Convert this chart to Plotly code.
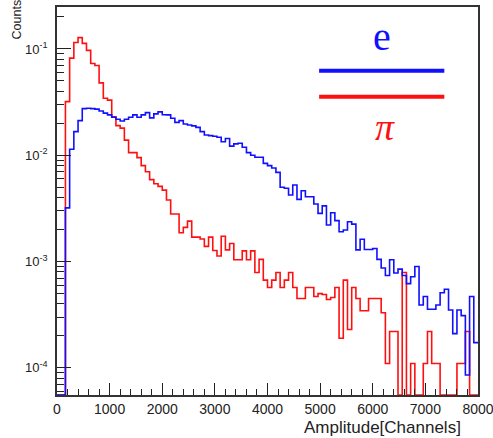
import numpy as np
import plotly.graph_objects as go

# ---------------- data ----------------
bin_width = 80
x_lo, x_hi = 0, 8000

# pion (red) normalised counts, 100 bins of 80 channels starting at 0
pi_counts = [
    0, 0, 0.032, 0.082, 0.115, 0.128, 0.113, 0.097, 0.073, 0.070,
    0.048, 0.0344, 0.033, 0.023, 0.019, 0.018, 0.0139, 0.0106, 0.0106, 0.0095,
    0.0080, 0.0070, 0.0059, 0.0054, 0.0051, 0.0047, 0.0038, 0.0028, 0.0028, 0.00187,
    0.0021, 0.0024, 0.0017, 0.0017, 0.00163, 0.00139, 0.0017, 0.00127, 0.00113, 0.00173,
    0.00129, 0.00148, 0.00104, 0.00104, 0.00126, 0.00104, 0.00126, 0.00079, 0.00105, 0.00067,
    0.00057, 0.00067, 0.00079, 0.00057, 0.00067, 0.00079, 0.00057, 0.00045, 0.00045, 0.00057,
    0.00057, 0.00047, 0.00050, 0.00049, 0.00044, 0.00046, 0.00057, 0.00019, 0.00067, 0.00023,
    0.00057, 0.00045, 0.000345, 0.000345, 0.00045, 0.00045, 0.00045, 0.00033, 0.00011, 0.00022,
    0.00022, 0, 0.00079, 0, 0.00011, 0, 0, 0.00011, 0.00022, 0.00011,
    0.00011, 0, 0, 0, 0, 0.00011, 0.00011, 0.00022, 0, 0,
]

# electron (blue) normalised counts
e_counts = [
    0, 0, 0.0032, 0.0114, 0.0167, 0.0212, 0.0275, 0.0277, 0.0275, 0.0272,
    0.0261, 0.0249, 0.0240, 0.0228, 0.0218, 0.0210, 0.0218, 0.0228, 0.0240, 0.0228,
    0.0240, 0.0252, 0.0225, 0.0245, 0.0256, 0.0241, 0.0240, 0.0223, 0.0204, 0.0212,
    0.0197, 0.0193, 0.0189, 0.0183, 0.0167, 0.0155, 0.0153, 0.0151, 0.0148, 0.0134,
    0.0144, 0.0122, 0.0128, 0.0130, 0.0119, 0.0106, 0.0100, 0.0096, 0.0096, 0.0084,
    0.0080, 0.0076, 0.0069, 0.0050, 0.0049, 0.00423, 0.00525, 0.00385, 0.00464, 0.00407,
    0.00407, 0.00348, 0.00284, 0.00334, 0.00221, 0.00288, 0.00243, 0.00191, 0.00198, 0.00237,
    0.00225, 0.00129, 0.00162, 0.00130, 0.00130, 0.00133, 0.00105, 0.00087, 0.00074, 0.00104,
    0.00078, 0.00085, 0.00074, 0.00062, 0.00072, 0.00090, 0.00039, 0.00047, 0.000356, 0.000356,
    0.00039, 0.00051, 0.00055, 0.00035, 0.00021, 0.00035, 0.00031, 0.0000857, 0.00047, 0.000173,
]

x_major_ticks = [0, 1000, 2000, 3000, 4000, 5000, 6000, 7000, 8000]
x_minor_step = 200
y_major_ticks = [1e-4, 1e-3, 1e-2, 1e-1]
y_tick_labels = ["10<sup>-4</sup>", "10<sup>-3</sup>", "10<sup>-2</sup>", "10<sup>-1</sup>"]
legend_labels = ["e", "π"]

# ---------------- figure ----------------
y_log_lo, y_log_hi = -4.255, -0.605
floor = 10 ** y_log_lo

edges = np.arange(x_lo, x_hi + bin_width, bin_width)


def step_xy(vals):
    v = [val if val > 0 else floor for val in vals]
    return list(edges), v + [v[-1]]


fig = go.Figure()
for vals, col in ((pi_counts, "#ff1010"), (e_counts, "#1010ff")):
    xs, ys = step_xy(vals)
    fig.add_trace(go.Scatter(x=xs, y=ys, mode="lines", line=dict(color=col, width=1.6, shape="hv"),
                             showlegend=False, hoverinfo="skip"))

y_minor = [k * 10.0 ** e for e in range(-5, 0) for k in range(2, 10)]
y_minor = [v for v in y_minor if floor < v < 10 ** y_log_hi]
x_minor = [v for v in range(x_lo, x_hi + 1, x_minor_step) if v not in x_major_ticks]

tick_font = dict(family="Liberation Sans, Arial, sans-serif", size=14, color="#222")

fig.update_layout(
    width=493, height=438,
    margin=dict(l=57, r=15, t=7, b=43, autoexpand=False),
    paper_bgcolor="white", plot_bgcolor="white",
    xaxis=dict(range=[x_lo, x_hi], tickmode="array", tickvals=x_major_ticks,
               ticks="inside", ticklen=12, tickwidth=1.2, tickcolor="#222",
               showline=True, linecolor="#333", linewidth=1.5, mirror=True,
               showgrid=False, zeroline=False, tickfont=tick_font, ticklabelstandoff=0,
               ticklabeloverflow="allow", automargin=False,
               minor=dict(tickmode="array", tickvals=x_minor, ticks="inside", ticklen=6,
                          tickwidth=1.2, tickcolor="#222", showgrid=False)),
    yaxis=dict(type="log", range=[y_log_lo, y_log_hi], tickmode="array",
               tickvals=y_major_ticks, ticktext=y_tick_labels,
               ticks="inside", ticklen=14, tickwidth=1.2, tickcolor="#222",
               showline=True, linecolor="#333", linewidth=1.5, mirror=True,
               showgrid=False, zeroline=False, automargin=False,
               tickfont=dict(family="Liberation Sans, Arial, sans-serif", size=13, color="#222"),
               ticklabelstandoff=5,
               minor=dict(tickmode="array", tickvals=y_minor, ticks="inside", ticklen=7,
                          tickwidth=1.2, tickcolor="#222", showgrid=False)),
)

# axis titles
fig.add_annotation(text="Amplitude[Channels]", xref="paper", yref="paper",
                   x=0.964, y=-0.085, xanchor="right", yanchor="middle", showarrow=False,
                   font=dict(family="Liberation Sans, Arial, sans-serif", size=17, color="#222"))
fig.add_annotation(text="Counts", xref="paper", yref="paper", textangle=-90,
                   x=-0.095, y=0.968, xanchor="center", yanchor="middle", showarrow=False,
                   font=dict(family="Liberation Sans, Arial, sans-serif", size=12.5, color="#222"))

# legend (drawn like the reference: labels above / below coloured bars)
fig.add_shape(type="line", xref="paper", yref="paper", x0=0.6226, x1=0.92, y0=0.8358, y1=0.8358,
              line=dict(color="#1010ff", width=4))
fig.add_shape(type="line", xref="paper", yref="paper", x0=0.6226, x1=0.92, y0=0.7688, y1=0.7688,
              line=dict(color="#ff1010", width=4))
fig.add_annotation(text=legend_labels[0], xref="paper", yref="paper", x=0.772, y=0.925,
                   xanchor="center", yanchor="middle", showarrow=False,
                   font=dict(family="Liberation Serif, Times New Roman, serif", size=40, color="#1010ff"))
fig.add_annotation(text="<i>" + legend_labels[1] + "</i>", xref="paper", yref="paper", x=0.778, y=0.69,
                   xanchor="center", yanchor="middle", showarrow=False,
                   font=dict(family="Liberation Serif, Times New Roman, serif", size=38, color="#ff1010"))

fig.write_html("out.html", config={"displayModeBar": False},
               post_script="document.body.style.margin='0';document.body.style.overflow='hidden';")
